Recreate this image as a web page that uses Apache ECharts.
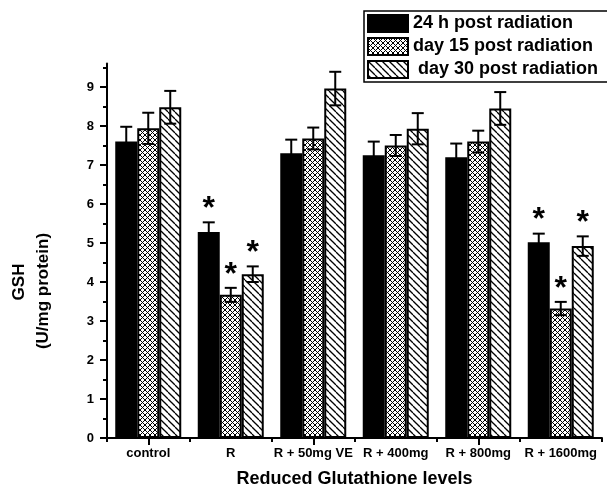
<!DOCTYPE html>
<html><head><meta charset="utf-8">
<script src="https://cdn.jsdelivr.net/npm/echarts@6/dist/echarts.min.js"></script>
<style>html,body{margin:0;padding:0;background:#fff}#c{width:607px;height:489px}</style>
</head><body><div id="c"></div>
<script>
var categories = ['control', 'R', 'R + 50mg VE', 'R + 400mg', 'R + 800mg', 'R + 1600mg'];
var seriesNames = ['24 h post radiation', 'day 15 post radiation', ' day 30 post radiation'];
var values24h = [7.60, 5.28, 7.30, 7.25, 7.20, 5.02];
var values15d = [7.94, 3.67, 7.68, 7.50, 7.60, 3.32];
var values30d = [8.48, 4.20, 8.96, 7.93, 8.45, 4.92];
var err24h = [0.38, 0.25, 0.35, 0.35, 0.35, 0.22];
var err15d = [0.40, 0.18, 0.28, 0.27, 0.28, 0.17];
var err30d = [0.42, 0.20, 0.43, 0.40, 0.42, 0.25];
var sig24h = [0, 1, 0, 0, 0, 1];
var sig15d = [0, 1, 0, 0, 0, 1];
var sig30d = [0, 1, 0, 0, 0, 1];
var yMajorTicks = [0, 1, 2, 3, 4, 5, 6, 7, 8, 9];
var yMinorTicks = [0.5, 1.5, 2.5, 3.5, 4.5, 5.5, 6.5, 7.5, 8.5, 9.5];
var yMax = 9.6;

function hatchCanvas() {
  var p = 7, c = document.createElement('canvas');
  c.width = p; c.height = p;
  var ctx = c.getContext('2d');
  ctx.fillStyle = '#fff'; ctx.fillRect(0, 0, p, p);
  ctx.strokeStyle = '#000'; ctx.lineWidth = 1.3;
  for (var k = -1; k <= 1; k++) {
    ctx.beginPath(); ctx.moveTo(k * p, 0); ctx.lineTo(k * p + p, p); ctx.stroke();
  }
  return c;
}
function crossCanvas() {
  var p = 5, c = document.createElement('canvas');
  c.width = p; c.height = p;
  var ctx = c.getContext('2d');
  ctx.fillStyle = '#fff'; ctx.fillRect(0, 0, p, p);
  ctx.strokeStyle = '#000'; ctx.lineWidth = 1;
  for (var k = -1; k <= 1; k++) {
    ctx.beginPath(); ctx.moveTo(k * p, 0); ctx.lineTo(k * p + p, p); ctx.stroke();
    ctx.beginPath(); ctx.moveTo(k * p + p, 0); ctx.lineTo(k * p, p); ctx.stroke();
  }
  return c;
}
var crossPattern = { image: crossCanvas(), repeat: 'repeat' };
var hatchPattern = { image: hatchCanvas(), repeat: 'repeat' };

var CAT_GAP = 0.2;
function barX(api, ci, k) {
  var band = api.size([1, 0])[0];
  var w = band * (1 - CAT_GAP) / 3;
  return api.coord([ci, 0])[0] + (k - 1) * w;
}
function errSeries(k, vals, errs) {
  return {
    type: 'custom', z: 5, silent: true,
    data: vals.map(function (v, i) { return [i, v, errs[i]]; }),
    renderItem: function (params, api) {
      var ci = api.value(0), v = api.value(1), e = api.value(2);
      var x = barX(api, ci, k);
      var yt = api.coord([ci, v + e])[1], yb = api.coord([ci, v - e])[1];
      var h = 6;
      var st = { stroke: '#000', lineWidth: 2 };
      return { type: 'group', children: [
        { type: 'line', shape: { x1: x, y1: yt, x2: x, y2: yb }, style: st },
        { type: 'line', shape: { x1: x - h, y1: yt, x2: x + h, y2: yt }, style: st },
        { type: 'line', shape: { x1: x - h, y1: yb, x2: x + h, y2: yb }, style: st }
      ]};
    }
  };
}
function starSeries(k, vals, errs, sig) {
  var d = [];
  vals.forEach(function (v, i) { if (sig[i]) d.push([i, v, errs[i]]); });
  return {
    type: 'custom', z: 6, silent: true, data: d,
    renderItem: function (params, api) {
      var ci = api.value(0), v = api.value(1), e = api.value(2);
      var x = barX(api, ci, k);
      var yt = api.coord([ci, v + e])[1];
      return { type: 'text', style: { text: '*', x: x, y: yt + 3, align: 'center', verticalAlign: 'bottom',
        fill: '#000', font: 'bold 32px "Liberation Sans", Arial, sans-serif' } };
    }
  };
}

var FONT = '"Liberation Sans", Arial, sans-serif';
var chart = echarts.init(document.getElementById('c'), null, { renderer: 'canvas' });
chart.setOption({
  animation: false,
  backgroundColor: '#fff',
  grid: { left: 107, right: 5, top: 63.6, bottom: 51, containLabel: false, outerBoundsMode: 'none' },
  legend: {
    left: 364, top: 11, orient: 'vertical',
    data: seriesNames,
    itemWidth: 40, itemHeight: 17, itemGap: 4,
    padding: [3, 14, 3, 3],
    borderColor: '#000', borderWidth: 1.5,
    textStyle: { fontFamily: FONT, fontWeight: 'bold', fontSize: 18, color: '#000' },
    icon: 'rect'
  },
  xAxis: [{
    type: 'category', data: categories,
    axisLine: { lineStyle: { color: '#000', width: 2 } },
    axisTick: { show: true, alignWithLabel: false, length: 4, inside: false, lineStyle: { color: '#000', width: 2 } },
    axisLabel: { fontFamily: FONT, fontWeight: 'bold', fontSize: 13, color: '#000', margin: 9, interval: 0 },
    name: 'Reduced Glutathione levels', nameLocation: 'middle', nameGap: 32,
    nameTextStyle: { fontFamily: FONT, fontWeight: 'bold', fontSize: 18, color: '#000' }
  }, {
    type: 'category', data: categories, position: 'bottom',
    axisLine: { show: false },
    axisTick: { show: true, alignWithLabel: true, length: 7, lineStyle: { color: '#000', width: 2 } },
    axisLabel: { show: false }
  }],
  yAxis: [{
    type: 'value', min: 0, max: yMax,
    axisLine: { show: true, lineStyle: { color: '#000', width: 2 } },
    axisTick: { show: true, length: 7, customValues: yMajorTicks, lineStyle: { color: '#000', width: 2 } },
    axisLabel: { customValues: yMajorTicks, fontFamily: FONT, fontWeight: 'bold', fontSize: 13, color: '#000', margin: 13 },
    splitLine: { show: false }
  }, {
    type: 'value', min: 0, max: yMax, position: 'left',
    axisLine: { show: false },
    axisTick: { show: true, length: 4, customValues: yMinorTicks, lineStyle: { color: '#000', width: 2 } },
    axisLabel: { show: false },
    splitLine: { show: false }
  }],
  graphic: [
    { type: 'text', x: 19, y: 282, rotation: Math.PI / 2,
      style: { text: 'GSH', align: 'center', verticalAlign: 'middle', font: 'bold 17px ' + FONT, fill: '#000' } },
    { type: 'text', x: 43, y: 291, rotation: Math.PI / 2,
      style: { text: '(U/mg protein)', align: 'center', verticalAlign: 'middle', font: 'bold 17px ' + FONT, fill: '#000' } }
  ],
  series: [
    { name: seriesNames[0], type: 'bar', data: values24h, barGap: '0%', barCategoryGap: '20%',
      itemStyle: { color: '#000', borderColor: '#000', borderWidth: 1.5 } },
    { name: seriesNames[1], type: 'bar', data: values15d, barGap: '0%', barCategoryGap: '20%',
      itemStyle: { color: crossPattern, borderColor: '#000', borderWidth: 2 } },
    { name: seriesNames[2], type: 'bar', data: values30d, barGap: '0%', barCategoryGap: '20%',
      itemStyle: { color: hatchPattern, borderColor: '#000', borderWidth: 2 } },
    errSeries(0, values24h, err24h),
    errSeries(1, values15d, err15d),
    errSeries(2, values30d, err30d),
    starSeries(0, values24h, err24h, sig24h),
    starSeries(1, values15d, err15d, sig15d),
    starSeries(2, values30d, err30d, sig30d)
  ]
});
</script></body></html>
